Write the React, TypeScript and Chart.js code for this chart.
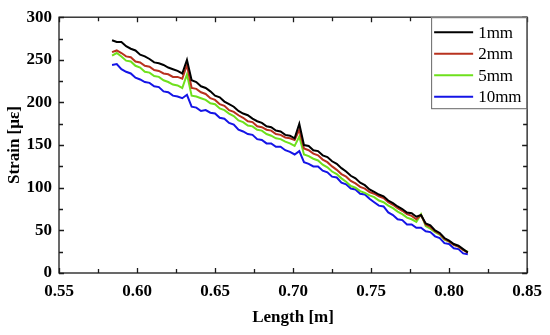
import React, { useEffect, useRef } from "react";
import { Chart, registerables } from "chart.js";
Chart.register(...registerables);

const lengths = [
  0.584, 0.587, 0.59, 0.593, 0.596, 0.599, 0.602, 0.605, 0.608, 0.611, 0.614, 0.617, 0.62, 0.623, 0.626, 0.629,
  0.632, 0.635, 0.638, 0.641, 0.644, 0.647, 0.65, 0.653, 0.656, 0.659, 0.662, 0.665, 0.668, 0.671, 0.674, 0.677,
  0.68, 0.683, 0.686, 0.689, 0.692, 0.695, 0.698, 0.701, 0.704, 0.707, 0.71, 0.713, 0.716, 0.719, 0.722, 0.725,
  0.728, 0.731, 0.734, 0.737, 0.74, 0.743, 0.746, 0.749, 0.752, 0.755, 0.758, 0.761, 0.764, 0.767, 0.77, 0.773,
  0.776, 0.779, 0.782, 0.785, 0.788, 0.791, 0.794, 0.797, 0.8, 0.803, 0.806, 0.809, 0.812,
];

const strain1mm = [
  273, 271, 271, 266, 263, 261, 256, 254, 251, 247, 246, 244, 241, 239, 237, 234,
  250, 226, 224, 219, 217, 213, 208, 206, 201, 198, 195, 190, 187, 185, 181, 178,
  176, 172, 171, 167, 166, 162, 161, 158, 175, 150, 149, 144, 143, 138, 136, 131,
  128, 123, 119, 114, 111, 106, 103, 98, 95, 92, 90, 85, 82, 78, 75, 71,
  70, 66, 68, 58, 56, 50, 47, 41, 38, 34, 32, 28, 24,
];

const strain2mm = [
  259, 261, 258, 254, 253, 248, 247, 243, 242, 238, 237, 234, 233, 230, 230, 228,
  244, 217, 216, 212, 210, 205, 203, 198, 196, 191, 189, 185, 182, 178, 177, 172,
  171, 168, 167, 163, 162, 159, 158, 156, 168, 146, 144, 140, 138, 133, 130, 125,
  121, 116, 113, 108, 105, 101, 99, 95, 93, 90, 88, 83, 80, 76, 73, 69,
  67, 63, 68, 57, 54, 49, 46, 40, 37, 33, 31, 27, 24,
];

const strain5mm = [
  255, 258, 254, 249, 248, 243, 241, 236, 235, 231, 230, 226, 224, 221, 220, 217,
  233, 208, 207, 205, 203, 199, 198, 193, 191, 187, 184, 179, 177, 173, 172, 168,
  167, 163, 161, 158, 157, 154, 152, 149, 160, 139, 137, 134, 132, 127, 124, 119,
  116, 111, 107, 102, 100, 96, 94, 91, 89, 85, 83, 79, 76, 72, 69, 65,
  63, 60, 69, 55, 52, 48, 45, 39, 37, 33, 31, 27, 25,
];

const strain10mm = [
  244, 245, 239, 236, 234, 229, 227, 224, 223, 219, 218, 213, 212, 208, 207, 205,
  209, 195, 194, 190, 191, 188, 187, 182, 181, 176, 174, 168, 166, 163, 162, 157,
  156, 152, 152, 148, 148, 144, 142, 139, 143, 130, 128, 125, 125, 120, 118, 113,
  112, 106, 104, 99, 98, 93, 92, 87, 83, 79, 78, 71, 68, 63, 62, 57,
  57, 53, 53, 49, 48, 43, 41, 35, 34, 29, 28, 23, 22,
];

const seriesLabels = ["1mm", "2mm", "5mm", "10mm"];
const seriesValues = [strain1mm, strain2mm, strain5mm, strain10mm];
const seriesColors = ["#000000", "#b8321f", "#6ee01c", "#1414e6"];

const xMajorTicks = [0.55, 0.6, 0.65, 0.7, 0.75, 0.8, 0.85];
const xMinorTicks = [0.575, 0.625, 0.675, 0.725, 0.775, 0.825];
const yMajorTicks = [0, 50, 100, 150, 200, 250, 300];
const yMinorTicks = [25, 75, 125, 175, 225, 275];

const FONT = "'Liberation Serif', 'Times New Roman', serif";

const framePlugin = {
  id: "frameTicks",
  afterDatasetsDraw(chart: any) {
    const { ctx, chartArea, scales } = chart;
    const { left, right, top, bottom } = chartArea;
    const x = scales.x;
    const y = scales.y;
    ctx.save();
    ctx.strokeStyle = "#1a1a1a";
    ctx.lineWidth = 1.3;
    ctx.strokeRect(left, top, right - left, bottom - top);
    ctx.beginPath();
    const xt = (v: number, len: number) => {
      const p = Math.round(x.getPixelForValue(v)) + 0.5;
      ctx.moveTo(p, bottom);
      ctx.lineTo(p, bottom - len);
      ctx.moveTo(p, top);
      ctx.lineTo(p, top + len);
    };
    const yt = (v: number, len: number) => {
      const p = Math.round(y.getPixelForValue(v)) + 0.5;
      ctx.moveTo(left, p);
      ctx.lineTo(left + len, p);
      ctx.moveTo(right, p);
      ctx.lineTo(right - len, p);
    };
    xMajorTicks.forEach((v) => xt(v, 5));
    xMinorTicks.forEach((v) => xt(v, 4));
    yMajorTicks.forEach((v) => yt(v, 5));
    yMinorTicks.forEach((v) => yt(v, 4));
    ctx.stroke();
    ctx.restore();
  },
  afterDraw(chart: any) {
    const { ctx, chartArea } = chart;
    const boxW = 96;
    const boxH = 92;
    const bx = chartArea.right - boxW;
    const by = chartArea.top;
    ctx.save();
    ctx.fillStyle = "#ffffff";
    ctx.fillRect(bx, by, boxW, boxH);
    ctx.strokeStyle = "#666666";
    ctx.lineWidth = 1;
    ctx.strokeRect(bx + 0.5, by + 0.5, boxW - 1, boxH - 1);
    ctx.font = `17px ${FONT}`;
    ctx.textBaseline = "middle";
    ctx.fillStyle = "#000";
    seriesLabels.forEach((label, i) => {
      const ly = by + 15 + i * 21.5;
      ctx.strokeStyle = seriesColors[i];
      ctx.lineWidth = 2;
      ctx.beginPath();
      ctx.moveTo(bx + 3, ly);
      ctx.lineTo(bx + 42, ly);
      ctx.stroke();
      ctx.fillStyle = "#000";
      ctx.fillText(label, bx + 47, ly + 1);
    });
    ctx.restore();
  },
};

export default function App() {
  const canvasRef = useRef<HTMLCanvasElement | null>(null);

  useEffect(() => {
    document.body.style.margin = "0";
    const canvas = canvasRef.current;
    if (!canvas) return;
    const datasets = seriesLabels.map((label, i) => ({
      label,
      data: lengths.map((l, j) => ({ x: l, y: seriesValues[i][j] })),
      borderColor: seriesColors[i],
      backgroundColor: seriesColors[i],
      borderWidth: 2,
      pointRadius: 0,
      tension: 0,
      fill: false,
    }));
    const tickFont = { family: FONT, size: 17, weight: "bold" as const };
    const chart = new Chart(canvas, {
      type: "line",
      data: { datasets },
      options: {
        animation: false,
        responsive: false,
        events: [],
        layout: { padding: { top: 15, right: 22, left: 0, bottom: 0 } },
        plugins: { legend: { display: false }, tooltip: { enabled: false } },
        scales: {
          x: {
            type: "linear",
            min: 0.55,
            max: 0.85,
            afterBuildTicks: (s: any) => {
              s.ticks = xMajorTicks.map((v) => ({ value: v }));
            },
            afterFit: (s: any) => {
              s.height = 62;
            },
            grid: { display: false, drawTicks: false },
            border: { display: false },
            ticks: {
              font: tickFont,
              color: "#000",
              padding: 8,
              maxRotation: 0,
              autoSkip: false,
              callback: (v: any) => Number(v).toFixed(2),
            },
            title: {
              display: true,
              text: "Length [m]",
              font: tickFont,
              color: "#000",
              padding: { top: 0, bottom: 7 },
            },
          },
          y: {
            type: "linear",
            min: 0,
            max: 300,
            afterBuildTicks: (s: any) => {
              s.ticks = yMajorTicks.map((v) => ({ value: v }));
            },
            afterFit: (s: any) => {
              s.width = 59;
            },
            grid: { display: false, drawTicks: false },
            border: { display: false },
            ticks: {
              font: tickFont,
              color: "#000",
              padding: 7,
              autoSkip: false,
              callback: (v: any) => String(v),
            },
            title: {
              display: true,
              text: "Strain [με]",
              font: tickFont,
              color: "#000",
              padding: { top: 4, bottom: 0 },
            },
          },
        },
      },
      plugins: [framePlugin],
    } as any);
    return () => chart.destroy();
  }, []);

  return (
    <div style={{ position: "fixed", left: 0, top: 0, width: 550, height: 335, background: "#fff" }}>
      <canvas ref={canvasRef} width={550} height={335} />
    </div>
  );
}
